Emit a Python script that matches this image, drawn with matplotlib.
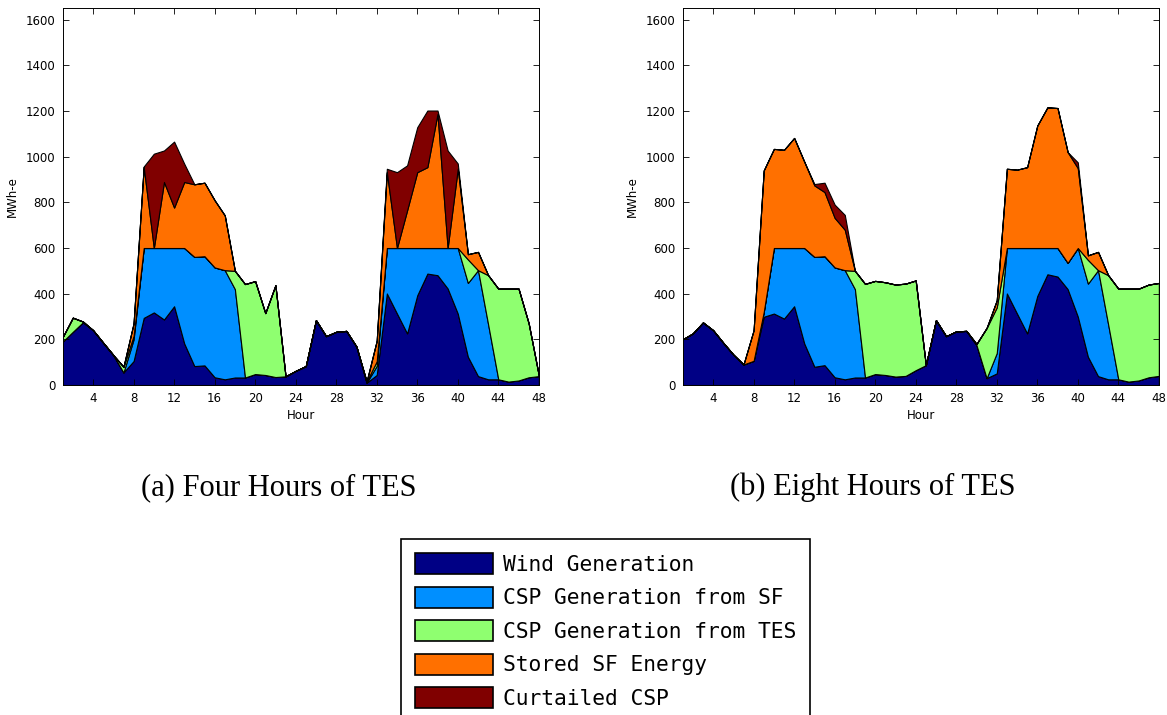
"""
Two-day dispatch of wind and CSP generation for two thermal-storage sizes,
drawn as stacked areas with a shared legend underneath.
"""

import numpy as np
import matplotlib
matplotlib.use("Agg")
import matplotlib.pyplot as plt
from matplotlib.patches import Patch

hours = np.arange(1, 49)

# ---- (a) four hours of TES  [MWh-e per hour] ----
wind_4h = [190, 233, 275, 240, 185, 131, 55, 105, 294, 318, 287, 345,
           182, 83, 86, 34, 25, 33, 33, 48, 44, 35, 38, 62,
           83, 284, 214, 233, 237, 168, 10, 44, 401, 313, 226, 393,
           488, 481, 423, 313, 124, 39, 25, 25, 15, 20, 34, 39]
sf_4h = [0, 0, 0, 0, 0, 0, 0, 95, 306, 282, 313, 255,
         418, 478, 478, 481, 478, 387, 0, 0, 0, 0, 0, 0,
         0, 0, 0, 0, 0, 0, 0, 40, 199, 287, 374, 207,
         112, 119, 177, 287, 323, 464, 240, 0, 0, 0, 0, 0]
tes_4h = [20, 62, 3, 0, 0, 0, 25, 15, 0, 0, 0, 0,
          0, 0, 0, 0, 0, 80, 409, 407, 271, 402, 0, 0,
          0, 0, 0, 0, 0, 0, 5, 20, 0, 0, 0, 0,
          0, 0, 0, 0, 103, 0, 216, 397, 407, 402, 236, 3]
stored_4h = [0, 0, 0, 0, 0, 0, 0, 55, 355, 0, 289, 177,
             289, 318, 322, 294, 240, 0, 0, 0, 0, 0, 0, 0,
             0, 0, 0, 0, 0, 0, 0, 90, 332, 0, 165, 332,
             354, 587, 0, 347, 23, 80, 0, 0, 0, 0, 0, 0]
curtailed_4h = [0, 0, 0, 0, 0, 0, 0, 0, 2, 413, 138, 289,
                80, 0, 0, 0, 0, 0, 0, 0, 0, 0, 0, 0,
                0, 0, 0, 0, 0, 0, 0, 0, 15, 332, 197, 197,
                248, 15, 427, 23, 0, 0, 0, 0, 0, 0, 0, 0]

# ---- (b) eight hours of TES ----
wind_8h = [200, 226, 274, 240, 185, 133, 90, 106, 299, 313, 291, 345,
           182, 80, 87, 34, 25, 33, 33, 48, 44, 37, 40, 65,
           87, 284, 214, 235, 237, 175, 30, 51, 401, 313, 226, 390,
           485, 475, 420, 300, 124, 39, 25, 25, 15, 20, 34, 40]
sf_8h = [0, 0, 0, 0, 0, 0, 0, 0, 21, 287, 309, 255,
         418, 481, 477, 481, 478, 387, 0, 0, 0, 0, 0, 0,
         0, 0, 0, 0, 0, 0, 0, 89, 199, 287, 374, 210,
         115, 125, 115, 300, 320, 464, 240, 0, 0, 0, 0, 0]
tes_8h = [0, 0, 0, 0, 0, 0, 0, 0, 0, 0, 0, 0,
          0, 0, 0, 0, 0, 80, 410, 408, 406, 403, 404, 393,
          0, 0, 0, 0, 0, 5, 220, 200, 0, 0, 0, 0,
          0, 0, 0, 0, 104, 0, 216, 397, 407, 402, 406, 407]
stored_8h = [0, 0, 0, 0, 0, 0, 0, 134, 620, 434, 430, 482,
             378, 313, 281, 217, 177, 0, 0, 0, 0, 0, 0, 0,
             0, 0, 0, 0, 0, 0, 0, 31, 347, 343, 354, 536,
             616, 613, 485, 350, 20, 80, 0, 0, 0, 0, 0, 0]
curtailed_8h = [0, 0, 0, 0, 0, 0, 0, 0, 0, 0, 0, 0,
                0, 6, 41, 58, 65, 0, 0, 0, 0, 0, 0, 0,
                0, 0, 0, 0, 0, 0, 0, 0, 0, 0, 0, 0,
                0, 0, 0, 25, 0, 0, 0, 0, 0, 0, 0, 0]

series_names = ["Wind Generation", "CSP Generation from SF",
                "CSP Generation from TES", "Stored SF Energy", "Curtailed CSP"]
series_colors = ["#000085", "#008FFF", "#8FFF70", "#FF7000", "#800000"]

captions = ["(a) Four Hours of TES", "(b) Eight Hours of TES"]
y_ticks = [0, 200, 400, 600, 800, 1000, 1200, 1400, 1600]
x_ticks = [4, 8, 12, 16, 20, 24, 28, 32, 36, 40, 44, 48]


def dispatch_panel(ax, layers):
    """Stacked hourly dispatch in the same look as a MATLAB area() plot."""
    ax.stackplot(hours, *layers, colors=series_colors,
                 edgecolor="black", linewidth=0.8)
    ax.set_xlim(1, 48)
    ax.set_ylim(0, 1650)
    ax.set_xticks(x_ticks)
    ax.set_yticks(y_ticks)
    ax.tick_params(direction="in", top=True, right=True, length=4,
                   labelsize=8.5, width=0.6, pad=5)
    ax.set_xlabel("Hour", fontsize=8.5, labelpad=3)
    ax.set_ylabel("MWh-e", fontsize=8.5, labelpad=5)
    for sp in ax.spines.values():
        sp.set_linewidth(0.7)


fig = plt.figure(figsize=(11.67, 7.15), dpi=100)
ax_a = fig.add_axes([0.0537, 0.4615, 0.408, 0.527])
ax_b = fig.add_axes([0.585, 0.4615, 0.408, 0.527])

dispatch_panel(ax_a, [wind_4h, sf_4h, tes_4h, stored_4h, curtailed_4h])
dispatch_panel(ax_b, [wind_8h, sf_8h, tes_8h, stored_8h, curtailed_8h])

fig.text(0.239, 0.318, captions[0], ha="center", va="center",
         family="Liberation Serif", fontsize=22)
fig.text(0.748, 0.318, captions[1], ha="center", va="center",
         family="Liberation Serif", fontsize=22)

handles = [Patch(facecolor=c, edgecolor="black", linewidth=1.2)
           for c in series_colors]
leg = fig.legend(handles, series_names, loc="upper center",
                 bbox_to_anchor=(0.519, 0.2455), borderaxespad=0, ncol=1,
                 prop={"family": "DejaVu Sans Mono", "size": 15.3},
                 handlelength=3.65, handleheight=1.15, handletextpad=0.5,
                 labelspacing=0.55, borderpad=0.65, fancybox=False,
                 framealpha=1, edgecolor="black")
leg.get_frame().set_linewidth(1.2)

fig.savefig("out.png", dpi=100)
plt.close(fig)
